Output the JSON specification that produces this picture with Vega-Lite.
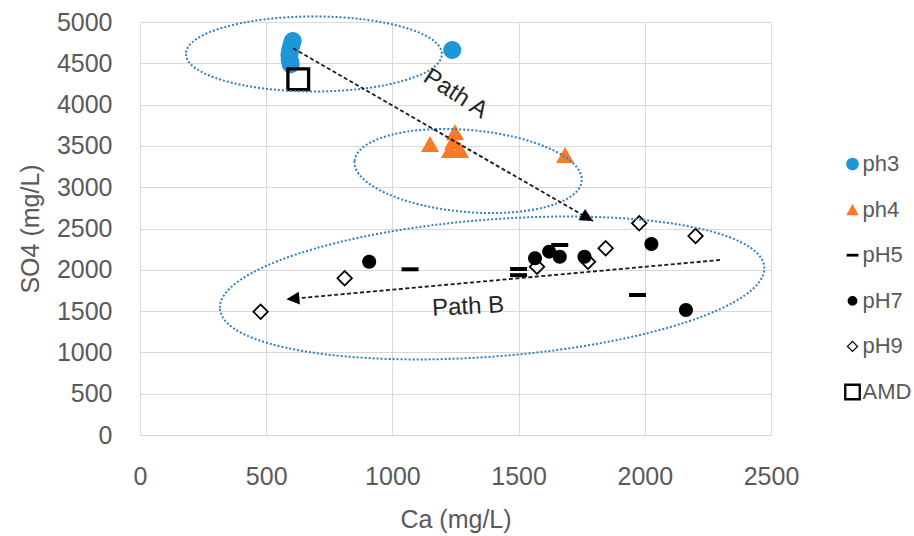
{
  "$schema": "https://vega.github.io/schema/vega-lite/v6.json",
  "width": 631,
  "height": 413,
  "autosize": {"type": "none"},
  "padding": {"left": 140, "top": 22, "right": 143, "bottom": 101},
  "background": "white",
  "config": {"view": {"stroke": null}, "font": "Liberation Sans"},
  "datasets": {
    "samples": [
      {"series": "ph3", "Ca": 605, "SO4": 4770},
      {"series": "ph3", "Ca": 600, "SO4": 4720},
      {"series": "ph3", "Ca": 595, "SO4": 4660},
      {"series": "ph3", "Ca": 592, "SO4": 4600},
      {"series": "ph3", "Ca": 593, "SO4": 4540},
      {"series": "ph3", "Ca": 597, "SO4": 4490},
      {"series": "ph3", "Ca": 1237, "SO4": 4661},
      {"series": "ph4", "Ca": 1149, "SO4": 3523},
      {"series": "ph4", "Ca": 1248, "SO4": 3665},
      {"series": "ph4", "Ca": 1240, "SO4": 3551},
      {"series": "ph4", "Ca": 1228, "SO4": 3450},
      {"series": "ph4", "Ca": 1268, "SO4": 3450},
      {"series": "ph4", "Ca": 1684, "SO4": 3390},
      {"series": "pH5", "Ca": 1663, "SO4": 2300},
      {"series": "pH5", "Ca": 1500, "SO4": 2010},
      {"series": "pH5", "Ca": 1500, "SO4": 1935},
      {"series": "pH5", "Ca": 1070, "SO4": 2006},
      {"series": "pH5", "Ca": 1971, "SO4": 1695},
      {"series": "pH7", "Ca": 2026, "SO4": 2312},
      {"series": "pH7", "Ca": 1761, "SO4": 2159},
      {"series": "pH7", "Ca": 1621, "SO4": 2220},
      {"series": "pH7", "Ca": 1663, "SO4": 2159},
      {"series": "pH7", "Ca": 1565, "SO4": 2139},
      {"series": "pH7", "Ca": 908, "SO4": 2098},
      {"series": "pH7", "Ca": 2163, "SO4": 1513},
      {"series": "pH9", "Ca": 1978, "SO4": 2563},
      {"series": "pH9", "Ca": 2201, "SO4": 2409},
      {"series": "pH9", "Ca": 1845, "SO4": 2260},
      {"series": "pH9", "Ca": 1775, "SO4": 2098},
      {"series": "pH9", "Ca": 1573, "SO4": 2038},
      {"series": "pH9", "Ca": 811, "SO4": 1897},
      {"series": "pH9", "Ca": 478, "SO4": 1493},
      {"series": "AMD", "Ca": 627, "SO4": 4306}
    ]
  },
  "layer": [
    {
      "data": {"name": "samples"},
      "mark": {"type": "point", "filled": true, "size": 4, "opacity": 1, "strokeWidth": 0},
      "encoding": {
        "x": {
          "field": "Ca", "type": "quantitative",
          "scale": {"domain": [0, 2500], "nice": false, "zero": false},
          "axis": {
            "title": "Ca (mg/L)", "values": [0, 500, 1000, 1500, 2000, 2500], "format": "d",
            "grid": true, "gridColor": "#d9d9d9", "gridWidth": 1,
            "domain": false, "ticks": false, "tickSize": 0, "labelFlush": false,
            "labelFontSize": 25, "labelColor": "#595959", "labelPadding": 29,
            "labelFont": "Liberation Sans",
            "titleFontSize": 25, "titleColor": "#595959", "titleFontWeight": "normal",
            "titleFont": "Liberation Sans",
            "titleY": 92, "titleBaseline": "alphabetic"
          }
        },
        "y": {
          "field": "SO4", "type": "quantitative",
          "scale": {"domain": [0, 5000], "nice": false, "zero": false},
          "axis": {
            "title": "SO4 (mg/L)", "values": [0, 500, 1000, 1500, 2000, 2500, 3000, 3500, 4000, 4500, 5000], "format": "d",
            "grid": true, "gridColor": "#d9d9d9", "gridWidth": 1,
            "domain": false, "ticks": false, "tickSize": 0, "labelFlush": false,
            "labelFontSize": 25, "labelColor": "#595959", "labelPadding": 28,
            "labelFont": "Liberation Sans",
            "titleFontSize": 25, "titleColor": "#595959", "titleFontWeight": "normal",
            "titleFont": "Liberation Sans",
            "titleX": -110, "titleY": 206.5, "titleBaseline": "middle", "titleAngle": -90, "titleAlign": "center"
          }
        },
        "shape": {
          "field": "series", "type": "nominal",
          "scale": {
            "domain": ["ph3", "ph4", "pH5", "pH7", "pH9", "AMD"],
            "range": [
              "M -9 0 A 9 9 0 1 0 9 0 A 9 9 0 1 0 -9 0 Z",
              "M 0 -8 L 9 8 L -9 8 Z",
              "M -8.5 -2 L 8.5 -2 L 8.5 2 L -8.5 2 Z",
              "M -7 0 A 7 7 0 1 0 7 0 A 7 7 0 1 0 -7 0 Z",
              "M 0 -8.5 L 8.5 0 L 0 8.5 L -8.5 0 Z M 0 -6 L -6 0 L 0 6 L 6 0 Z",
              "M -12 -12 L 12 -12 L 12 12 L -12 12 Z M -8.7 -8.7 L -8.7 8.7 L 8.7 8.7 L 8.7 -8.7 Z"
            ]
          },
          "legend": {
            "orient": "none", "legendX": 701.5, "legendY": 131, "title": null,
            "labelFontSize": 22, "labelColor": "#595959", "labelFont": "Liberation Sans",
            "symbolSize": 1.96, "rowPadding": 23.6, "labelOffset": -1, "padding": 0,
            "symbolStrokeWidth": 0
          }
        },
        "color": {
          "field": "series", "type": "nominal",
          "scale": {
            "domain": ["ph3", "ph4", "pH5", "pH7", "pH9", "AMD"],
            "range": ["#1e96d8", "#f97a26", "#000000", "#000000", "#000000", "#000000"]
          },
          "legend": {
            "orient": "none", "legendX": 701.5, "legendY": 131, "title": null,
            "labelFontSize": 22, "labelColor": "#595959", "labelFont": "Liberation Sans",
            "symbolSize": 1.96, "rowPadding": 23.6, "labelOffset": -1, "padding": 0,
            "symbolStrokeWidth": 0
          }
        }
      }
    },
    {
      "data": {"values": [{"group": "ph3 zone", "Ca": 689, "SO4": 4613}]},
      "mark": {"type": "point", "filled": false, "opacity": 1, "size": 4, "stroke": "#2f80c0", "strokeWidth": 2, "strokeDash": [2, 2],
        "shape": "M -128 0 A 128 37.5 0 1 0 128 0 A 128 37.5 0 1 0 -128 0 Z"},
      "encoding": {"x": {"field": "Ca", "type": "quantitative"}, "y": {"field": "SO4", "type": "quantitative"}}
    },
    {
      "data": {"values": [{"group": "ph4 zone", "Ca": 1300, "SO4": 3196}]},
      "mark": {"type": "point", "filled": false, "opacity": 1, "size": 4, "stroke": "#2f80c0", "strokeWidth": 2, "strokeDash": [2, 2], "angle": 5,
        "shape": "M -114 0 A 114 41 0 1 0 114 0 A 114 41 0 1 0 -114 0 Z"},
      "encoding": {"x": {"field": "Ca", "type": "quantitative"}, "y": {"field": "SO4", "type": "quantitative"}}
    },
    {
      "data": {"values": [{"group": "neutral zone", "Ca": 1395, "SO4": 1780}]},
      "mark": {"type": "point", "filled": false, "opacity": 1, "size": 4, "stroke": "#2f80c0", "strokeWidth": 2, "strokeDash": [2, 2], "angle": -4.4,
        "shape": "M -273 0 A 273 68.5 0 1 0 273 0 A 273 68.5 0 1 0 -273 0 Z"},
      "encoding": {"x": {"field": "Ca", "type": "quantitative"}, "y": {"field": "SO4", "type": "quantitative"}}
    },
    {
      "data": {"values": [
        {"path": "A", "Ca": 607, "SO4": 4682, "Ca2": 1795, "SO42": 2590},
        {"path": "B", "Ca": 2298, "SO4": 2119, "Ca2": 580, "SO42": 1643}
      ]},
      "mark": {"type": "rule", "stroke": "#1a1a1a", "strokeWidth": 1.8, "strokeDash": [4, 2.5]},
      "encoding": {
        "x": {"field": "Ca", "type": "quantitative"}, "y": {"field": "SO4", "type": "quantitative"},
        "x2": {"field": "Ca2"}, "y2": {"field": "SO42"}
      }
    },
    {
      "data": {"values": [{"path": "A", "Ca": 1795, "SO4": 2590}]},
      "mark": {"type": "point", "filled": true, "opacity": 1, "size": 4, "strokeWidth": 0, "color": "#000000", "angle": 120,
        "shape": "M 0 0 L 6.5 13 L -6.5 13 Z"},
      "encoding": {"x": {"field": "Ca", "type": "quantitative"}, "y": {"field": "SO4", "type": "quantitative"}}
    },
    {
      "data": {"values": [{"path": "B", "Ca": 580, "SO4": 1643}]},
      "mark": {"type": "point", "filled": true, "opacity": 1, "size": 4, "strokeWidth": 0, "color": "#000000", "angle": 264.9,
        "shape": "M 0 0 L 6.5 13 L -6.5 13 Z"},
      "encoding": {"x": {"field": "Ca", "type": "quantitative"}, "y": {"field": "SO4", "type": "quantitative"}}
    },
    {
      "data": {"values": [{"label": "Path A", "Ca": 1250, "SO4": 4130}]},
      "mark": {"type": "text", "angle": 33, "fontSize": 24, "color": "#262626", "align": "center", "baseline": "middle", "font": "Liberation Sans"},
      "encoding": {"x": {"field": "Ca", "type": "quantitative"}, "y": {"field": "SO4", "type": "quantitative"}, "text": {"field": "label"}}
    },
    {
      "data": {"values": [{"label": "Path B", "Ca": 1300, "SO4": 1550}]},
      "mark": {"type": "text", "angle": -3, "fontSize": 24, "color": "#262626", "align": "center", "baseline": "middle", "font": "Liberation Sans"},
      "encoding": {"x": {"field": "Ca", "type": "quantitative"}, "y": {"field": "SO4", "type": "quantitative"}, "text": {"field": "label"}}
    }
  ]
}
